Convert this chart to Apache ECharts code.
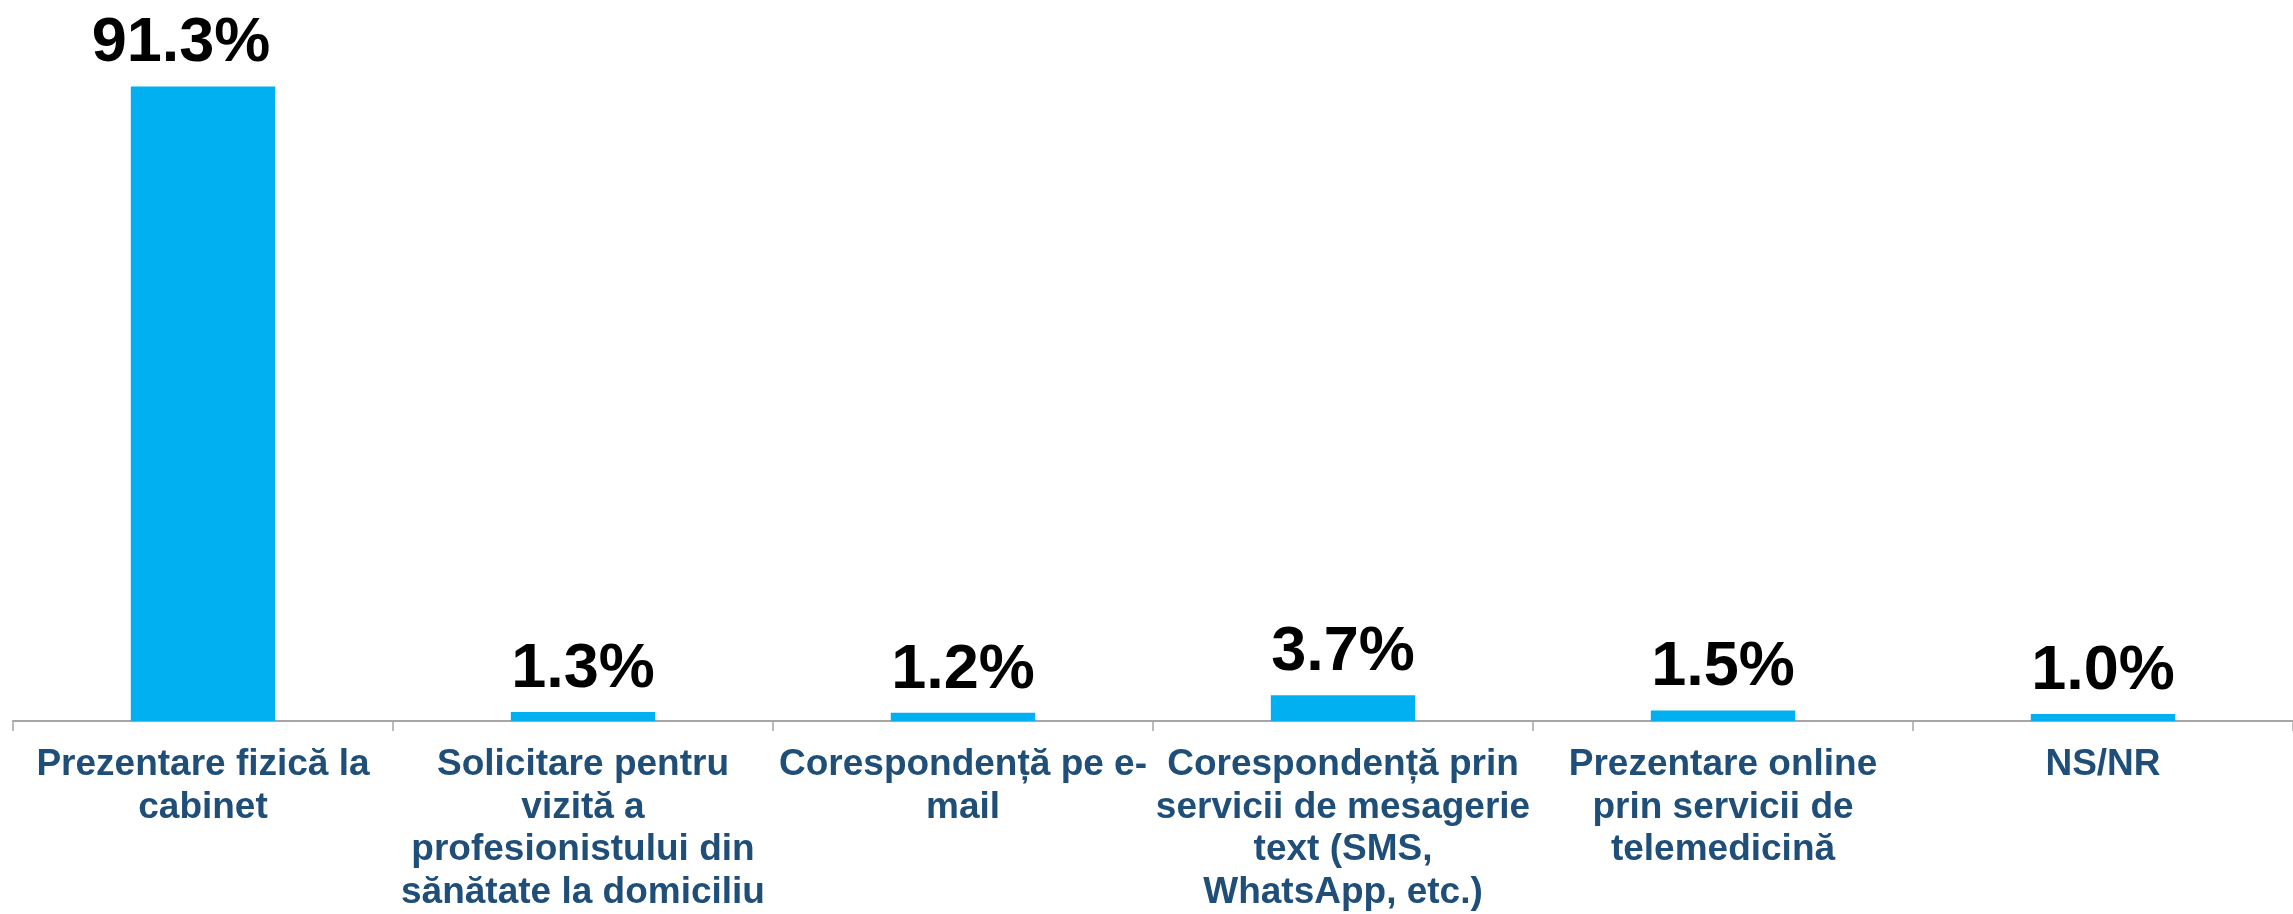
<!DOCTYPE html>
<html>
<head>
<meta charset="utf-8">
<script src="https://cdn.jsdelivr.net/npm/echarts@6/dist/echarts.min.js"></script>
<style>
  html, body { margin: 0; padding: 0; background: #fff; }
  #main { width: 2293px; height: 914px; }
</style>
</head>
<body>
<div id="main"></div>
<script>
// categorii (cu rupturile de rand din grafic)
var categories = [
    'Prezentare fizică la\ncabinet',
    'Solicitare pentru\nvizită a\nprofesionistului din\nsănătate la domiciliu',
    'Corespondență pe e-\nmail',
    'Corespondență prin\nservicii de mesagerie\ntext (SMS,\nWhatsApp, etc.)',
    'Prezentare online\nprin servicii de\ntelemedicină',
    'NS/NR'
];
var values = [91.3, 1.3, 1.2, 3.7, 1.5, 1.0];

// prima eticheta e putin deplasata la stanga in original
var barData = values.map(function (v, i) {
    return i === 0 ? { value: v, label: { offset: [-22, 0] } } : v;
});

var chart = echarts.init(document.getElementById('main'));
var option = {
    animation: false,
    grid: { left: 13, right: 0, top: 26, bottom: 193 },
    xAxis: {
        type: 'category',
        data: categories,
        axisLine: { lineStyle: { color: '#A6A6A6', width: 2 } },
        axisTick: { show: true, length: 10, lineStyle: { color: '#A6A6A6', width: 1.5 } },
        axisLabel: {
            interval: 0,
            margin: 23,
            color: '#1F4E79',
            fontFamily: 'Liberation Sans',
            fontWeight: 'bold',
            fontSize: 37,
            lineHeight: 42.5
        }
    },
    yAxis: {
        type: 'value',
        min: 0,
        max: 100,
        show: false,
        splitLine: { show: false }
    },
    series: [{
        type: 'bar',
        data: barData,
        barWidth: '38%',
        itemStyle: { color: '#00B0F0' },
        label: {
            show: true,
            position: 'top',
            distance: 11,
            color: '#000',
            fontFamily: 'Liberation Sans',
            fontWeight: 'bold',
            fontSize: 63,
            formatter: function (p) { return p.value.toFixed(1) + '%'; }
        }
    }]
};
chart.setOption(option);
</script>
</body>
</html>
